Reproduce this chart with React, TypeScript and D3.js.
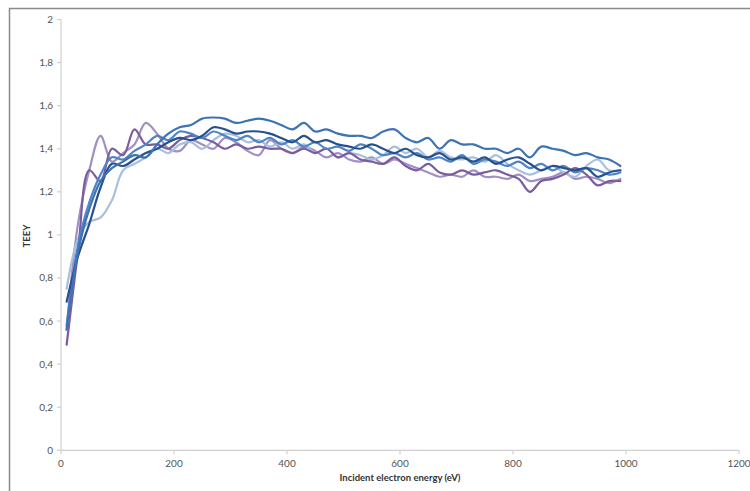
import React from "react";
import * as d3 from "d3";

const energies: number[] = Array.from({ length: 50 }, (_, i) => 10 + i * 20);

const seriesNavy = [0.69, 0.90, 1.05, 1.22, 1.33, 1.32, 1.35, 1.38, 1.40, 1.43, 1.45, 1.44, 1.46, 1.50, 1.49, 1.47, 1.48, 1.48, 1.47, 1.45, 1.43, 1.46, 1.43, 1.44, 1.42, 1.41, 1.40, 1.42, 1.40, 1.38, 1.40, 1.37, 1.36, 1.38, 1.35, 1.36, 1.34, 1.36, 1.33, 1.35, 1.36, 1.33, 1.30, 1.32, 1.31, 1.30, 1.31, 1.27, 1.29, 1.30];
const seriesSteel = [0.56, 0.92, 1.12, 1.25, 1.31, 1.34, 1.37, 1.36, 1.42, 1.47, 1.50, 1.51, 1.54, 1.545, 1.54, 1.52, 1.53, 1.54, 1.53, 1.51, 1.49, 1.52, 1.48, 1.49, 1.47, 1.46, 1.46, 1.45, 1.48, 1.49, 1.45, 1.43, 1.45, 1.40, 1.44, 1.42, 1.42, 1.40, 1.40, 1.38, 1.40, 1.36, 1.41, 1.40, 1.39, 1.37, 1.38, 1.36, 1.35, 1.32];
const seriesLightBlue = [0.75, 0.98, 1.06, 1.08, 1.16, 1.30, 1.33, 1.36, 1.40, 1.38, 1.42, 1.43, 1.40, 1.44, 1.47, 1.46, 1.43, 1.44, 1.41, 1.43, 1.40, 1.42, 1.38, 1.40, 1.36, 1.38, 1.37, 1.35, 1.37, 1.41, 1.38, 1.40, 1.36, 1.39, 1.36, 1.35, 1.36, 1.34, 1.37, 1.33, 1.30, 1.28, 1.30, 1.32, 1.29, 1.27, 1.32, 1.35, 1.30, 1.30];
const seriesPurple = [0.49, 0.92, 1.30, 1.25, 1.40, 1.37, 1.49, 1.42, 1.42, 1.40, 1.44, 1.46, 1.45, 1.43, 1.40, 1.42, 1.40, 1.41, 1.40, 1.40, 1.38, 1.40, 1.38, 1.40, 1.36, 1.38, 1.35, 1.34, 1.33, 1.36, 1.32, 1.30, 1.33, 1.29, 1.28, 1.30, 1.28, 1.29, 1.30, 1.28, 1.26, 1.20, 1.25, 1.26, 1.28, 1.31, 1.28, 1.23, 1.25, 1.25];
const seriesLavender = [0.56, 1.05, 1.30, 1.46, 1.34, 1.38, 1.42, 1.52, 1.47, 1.40, 1.39, 1.44, 1.42, 1.40, 1.45, 1.43, 1.39, 1.37, 1.44, 1.40, 1.38, 1.41, 1.39, 1.36, 1.38, 1.35, 1.34, 1.36, 1.33, 1.35, 1.33, 1.31, 1.29, 1.27, 1.28, 1.27, 1.30, 1.27, 1.27, 1.26, 1.28, 1.25, 1.26, 1.27, 1.29, 1.26, 1.27, 1.26, 1.24, 1.26];
const seriesMidBlue = [0.58, 0.95, 1.15, 1.28, 1.36, 1.35, 1.39, 1.42, 1.46, 1.44, 1.48, 1.47, 1.45, 1.48, 1.46, 1.44, 1.46, 1.43, 1.45, 1.42, 1.44, 1.41, 1.43, 1.40, 1.41, 1.39, 1.42, 1.40, 1.37, 1.38, 1.36, 1.38, 1.35, 1.36, 1.34, 1.37, 1.33, 1.35, 1.34, 1.32, 1.34, 1.31, 1.33, 1.30, 1.32, 1.29, 1.31, 1.30, 1.28, 1.29];

const seriesList = [
  { name: "lavender", values: seriesLavender, color: "#A190C3" },
  { name: "lightblue", values: seriesLightBlue, color: "#A9BFDD" },
  { name: "purple", values: seriesPurple, color: "#7A5CA1" },
  { name: "midblue", values: seriesMidBlue, color: "#4F85C4" },
  { name: "navy", values: seriesNavy, color: "#27508F" },
  { name: "steel", values: seriesSteel, color: "#3C73B4" },
];

const xTicks = [0, 200, 400, 600, 800, 1000, 1200];
const yTicks = [0, 0.2, 0.4, 0.6, 0.8, 1, 1.2, 1.4, 1.6, 1.8, 2];

const W = 750;
const H = 491;
const left = 61;
const right = 739;
const top = 19.5;
const bottom = 450.3;

export default function App() {
  const x = d3.scaleLinear().domain([0, 1200]).range([left, right]);
  const y = d3.scaleLinear().domain([0, 2]).range([bottom, top]);
  const line = d3
    .line<number>()
    .x((_, i) => x(energies[i]))
    .y((d) => y(d))
    .curve(d3.curveCatmullRom.alpha(0.5));
  const fmt = (v: number) => String(Math.round(v * 10) / 10).replace(".", ",");
  const font = "Lato, 'Liberation Sans', sans-serif";
  return (
    <svg
      width={W}
      height={H}
      style={{ position: "absolute", left: 0, top: 0, background: "#fff" }}
      fontFamily={font}
    >
      <rect x={9.5} y={8.5} width={800} height={600} fill="#fff" stroke="#8a8a8a" strokeWidth={1.5} />
      {/* y axis */}
      <line x1={left} x2={left} y1={top} y2={bottom} stroke="#d0d0d0" strokeWidth={1.2} />
      {yTicks.map((t) => (
        <g key={"y" + t}>
          <line x1={left - 4} x2={left} y1={y(t)} y2={y(t)} stroke="#d0d0d0" strokeWidth={1.2} />
          <text x={left - 8} y={y(t)} dy="0.35em" textAnchor="end" fontSize={10} fill="#555">
            {fmt(t)}
          </text>
        </g>
      ))}
      {/* x axis */}
      <line x1={left} x2={right} y1={bottom} y2={bottom} stroke="#d0d0d0" strokeWidth={1.2} />
      {xTicks.map((t) => (
        <g key={"x" + t}>
          <line x1={x(t)} x2={x(t)} y1={bottom} y2={bottom + 4} stroke="#d0d0d0" strokeWidth={1.2} />
          <text x={x(t)} y={bottom + 17} textAnchor="middle" fontSize={10} fill="#555">
            {t}
          </text>
        </g>
      ))}
      {seriesList.map((s) => (
        <path key={s.name} d={line(s.values) || ""} fill="none" stroke={s.color} strokeWidth={2.2} strokeLinejoin="round" strokeLinecap="round" />
      ))}
      <text
        transform={`translate(30, 236) rotate(-90)`}
        textAnchor="middle"
        fontSize={9.5}
        fontWeight="bold"
        fill="#333"
      >
        TEEY
      </text>
      <text x={(left + right) / 2} y={481} textAnchor="middle" fontSize={9.5} fontWeight="bold" fill="#333">
        Incident electron energy (eV)
      </text>
    </svg>
  );
}
